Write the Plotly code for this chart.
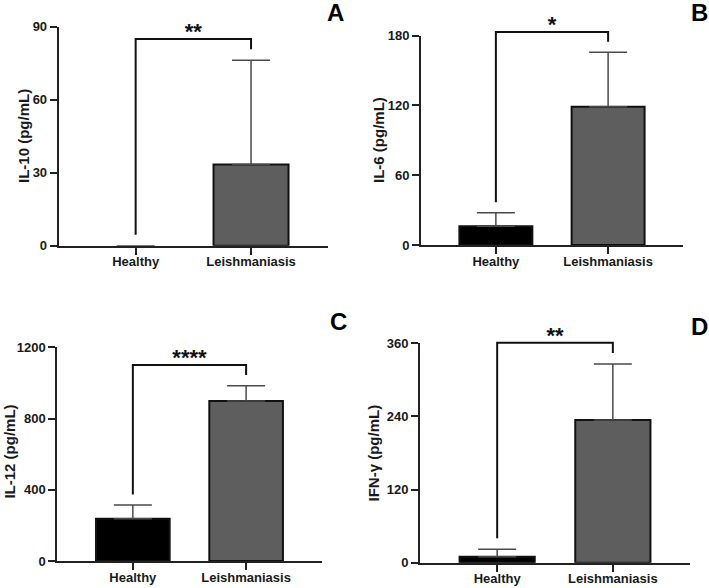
import plotly.graph_objects as go

# ---------------- data ----------------
categories = ["Healthy", "Leishmaniasis"]
panel_letters = ["A", "B", "C", "D"]
y_titles = ["IL-10 (pg/mL)", "IL-6 (pg/mL)", "IL-12 (pg/mL)", "IFN-γ (pg/mL)"]

il10_mean = [0.0, 33.4]
il10_sd = [0.0, 42.8]
il6_mean = [16.1, 118.9]
il6_sd = [11.7, 46.8]
il12_mean = [237.5, 898.5]
il12_sd = [76.5, 85.5]
ifng_mean = [9.8, 234.3]
ifng_sd = [12.2, 91.7]

y_max = [90, 180, 1200, 360]
y_step = [30, 60, 400, 120]
significance = ["**", "*", "****", "**"]

means = [il10_mean, il6_mean, il12_mean, ifng_mean]
sds = [il10_sd, il6_sd, il12_sd, ifng_sd]

# ---------------- layout geometry ----------------
x_domains = [[0.0828, 0.4626], [0.5938, 0.9633], [0.0808, 0.4537], [0.5924, 0.9732]]
y_domains = [[0.5821, 0.9546], [0.5833, 0.9393], [0.0459, 0.4094], [0.0430, 0.4162]]
title_pos = [(0.0324, 0.7687), (0.5331, 0.7619), (0.0135, 0.2313), (0.5282, 0.2296)]
letter_pos = [(0.4725, 0.9787), (0.9859, 0.9787), (0.4781, 0.4524), (0.9859, 0.4439)]
x_range = [-0.667, 1.667]

FONT = "Liberation Sans, Arial, Helvetica, sans-serif"
TXT = "#1a1a1a"
AX = "#222222"
bar_colors = ["#000000", "#5e5e5e"]

fig = go.Figure()
layout = dict(
    template="none",
    width=709, height=588,
    margin=dict(l=0, r=0, t=0, b=0, pad=0),
    paper_bgcolor="white", plot_bgcolor="rgba(0,0,0,0)",
    showlegend=False,
    font=dict(family=FONT, color=TXT),
)
annotations = []

for i in range(4):
    n = i + 1
    ov = i + 5
    xs = "" if n == 1 else str(n)
    ys = xs
    xo = str(ov)
    yo = str(ov)

    # bars with upper-only error bars (no outline on zero-height bars)
    outline = [2 if m > 0 else 0 for m in means[i]]
    fig.add_trace(go.Bar(
        x=categories, y=means[i],
        width=0.65,
        marker=dict(color=bar_colors, line=dict(color="#111111", width=outline)),
        error_y=dict(type="data", array=sds[i], arrayminus=[0] * len(sds[i]),
                     symmetric=False, thickness=1.5, width=19, color="#4a4a4a"),
        xaxis="x" + xs, yaxis="y" + ys,
        hoverinfo="x+y",
    ))

    # significance bracket derived from the data
    tops = [m + s for m, s in zip(means[i], sds[i])]
    bracket_top = max(tops) + 0.097 * y_max[i]
    legs = [t + 0.05 * y_max[i] for t in tops]
    pos = list(range(len(categories)))
    fig.add_trace(go.Scatter(
        x=[pos[0], pos[0], pos[1], pos[1]],
        y=[legs[0], bracket_top, bracket_top, legs[1]],
        mode="lines", line=dict(color="#111111", width=2),
        xaxis="x" + xo, yaxis="y" + yo, hoverinfo="skip",
    ))
    fig.add_trace(go.Scatter(
        x=[(pos[0] + pos[1]) / 2], y=[bracket_top + 0.026 * y_max[i]],
        mode="text", text=[significance[i]],
        textposition="middle center",
        textfont=dict(family=FONT, size=22, color="#111111", weight="bold"),
        cliponaxis=False,
        xaxis="x" + xo, yaxis="y" + yo, hoverinfo="skip",
    ))

    yd0, yd1 = y_domains[i]
    ext = (min(1.0, yd1 + 0.08) - yd0) / (yd1 - yd0)

    layout["xaxis" + xs] = dict(
        domain=x_domains[i], anchor="y" + ys, type="category",
        range=x_range, showline=True, linecolor=AX, linewidth=2,
        ticks="outside", ticklen=7, tickwidth=2, tickcolor=AX,
        ticklabelstandoff=-4,
        showgrid=False, zeroline=False, automargin=False,
        tickfont=dict(family=FONT, size=13, color=TXT, weight="bold"),
        fixedrange=True,
    )
    layout["yaxis" + ys] = dict(
        domain=y_domains[i], anchor="x" + xs,
        range=[0, y_max[i]],
        tickvals=list(range(0, y_max[i] + 1, y_step[i])),
        showline=True, linecolor=AX, linewidth=2,
        ticks="outside", ticklen=7, tickwidth=2, tickcolor=AX,
        showgrid=False, zeroline=False, automargin=False,
        tickfont=dict(family=FONT, size=13, color=TXT, weight="bold"),
        fixedrange=True,
    )
    layout["xaxis" + xo] = dict(
        domain=x_domains[i], anchor="y" + yo, range=x_range,
        visible=False, fixedrange=True, automargin=False,
    )
    layout["yaxis" + yo] = dict(
        domain=[yd0, yd0 + (yd1 - yd0) * ext], anchor="x" + xo,
        range=[0, y_max[i] * ext], visible=False, fixedrange=True,
        automargin=False,
    )

    annotations.append(dict(
        x=title_pos[i][0], y=title_pos[i][1], xref="paper", yref="paper",
        text=y_titles[i], showarrow=False, textangle=-90,
        xanchor="center", yanchor="middle",
        font=dict(family=FONT, size=15, color=TXT, weight="bold"),
    ))
    annotations.append(dict(
        x=letter_pos[i][0], y=letter_pos[i][1], xref="paper", yref="paper",
        text=panel_letters[i], showarrow=False,
        xanchor="center", yanchor="middle",
        font=dict(family=FONT, size=24, color="#000000", weight="bold"),
    ))

layout["annotations"] = annotations
fig.update_layout(**layout)
fig.write_html("out.html")
